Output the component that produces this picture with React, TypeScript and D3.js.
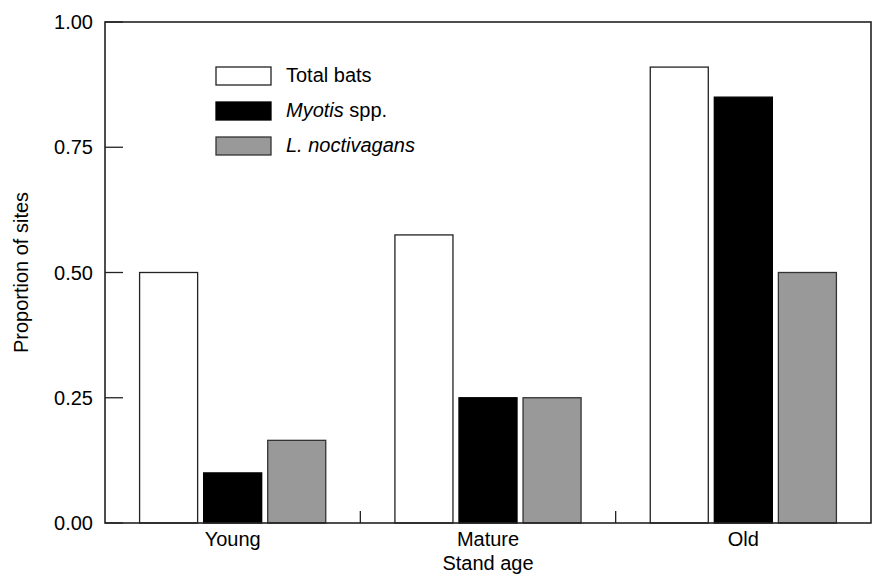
import React, { useRef, useEffect } from 'react';
import * as d3 from 'd3';

const categories = ['Young', 'Mature', 'Old'];
const seriesNames = ['Total bats', 'Myotis spp.', 'L. noctivagans'];
const totalBats = [0.5, 0.575, 0.91];
const myotis = [0.1, 0.25, 0.85];
const noctivagans = [0.165, 0.25, 0.5];
const yTicks = [0, 0.25, 0.5, 0.75, 1];

const fills = ['#ffffff', '#000000', '#999999'];
const strokes = ['#222', '#000', '#333'];

const App = () => {
  const svgRef = useRef<SVGSVGElement>(null);

  useEffect(() => {
    const svg = d3.select(svgRef.current);
    svg.selectAll('*').remove();

    const left = 105, right = 871, top = 22, bottom = 523;
    const font = 'Liberation Sans, Arial, sans-serif';
    const fs = 20;

    const x = d3.scaleBand().domain(categories).range([left, right]).padding(0);
    const xs = d3.scaleBand().domain(seriesNames).range([0, x.bandwidth()])
      .paddingInner(0.094).paddingOuter(0.54);
    const y = d3.scaleLinear().domain([0, 1]).range([bottom, top]);

    const values = [totalBats, myotis, noctivagans];

    // bars
    const g = svg.append('g');
    categories.forEach((cat, ci) => {
      seriesNames.forEach((s, si) => {
        const v = values[si][ci];
        g.append('rect')
          .attr('x', (x(cat) as number) + (xs(s) as number))
          .attr('y', y(v))
          .attr('width', xs.bandwidth())
          .attr('height', y(0) - y(v))
          .attr('fill', fills[si])
          .attr('stroke', strokes[si])
          .attr('stroke-width', 1.3);
      });
    });

    // frame
    svg.append('rect')
      .attr('x', left).attr('y', top)
      .attr('width', right - left).attr('height', bottom - top)
      .attr('fill', 'none').attr('stroke', '#222').attr('stroke-width', 1.6);

    // y ticks
    yTicks.forEach(t => {
      svg.append('line')
        .attr('x1', left).attr('x2', left + 18)
        .attr('y1', y(t)).attr('y2', y(t))
        .attr('stroke', '#222').attr('stroke-width', 1.3);
      svg.append('text')
        .attr('x', left - 12).attr('y', y(t) + 7)
        .attr('text-anchor', 'end')
        .attr('font-family', font).attr('font-size', fs)
        .text(d3.format('.2f')(t));
    });

    // x ticks between groups
    categories.slice(1).forEach(cat => {
      const xx = x(cat) as number;
      svg.append('line')
        .attr('x1', xx).attr('x2', xx)
        .attr('y1', bottom).attr('y2', bottom - 12)
        .attr('stroke', '#222').attr('stroke-width', 1.3);
    });

    categories.forEach(cat => {
      svg.append('text')
        .attr('x', (x(cat) as number) + x.bandwidth() / 2)
        .attr('y', 546)
        .attr('text-anchor', 'middle')
        .attr('font-family', font).attr('font-size', fs)
        .text(cat);
    });

    svg.append('text')
      .attr('x', (left + right) / 2).attr('y', 570)
      .attr('text-anchor', 'middle')
      .attr('font-family', font).attr('font-size', fs)
      .text('Stand age');

    svg.append('text')
      .attr('transform', `translate(28, ${(top + bottom) / 2}) rotate(-90)`)
      .attr('text-anchor', 'middle')
      .attr('font-family', font).attr('font-size', fs)
      .text('Proportion of sites');

    // legend
    const legend = svg.append('g').attr('transform', 'translate(216, 67)');
    seriesNames.forEach((s, i) => {
      const row = legend.append('g').attr('transform', `translate(0, ${i * 35})`);
      row.append('rect')
        .attr('width', 55).attr('height', 18)
        .attr('fill', fills[i]).attr('stroke', strokes[i]).attr('stroke-width', 1.3);
      const t = row.append('text')
        .attr('x', 70).attr('y', 15)
        .attr('font-family', font).attr('font-size', fs);
      if (i === 0) t.text(s);
      if (i === 1) {
        t.append('tspan').attr('font-style', 'italic').text('Myotis');
        t.append('tspan').text(' spp.');
      }
      if (i === 2) t.append('tspan').attr('font-style', 'italic').text(s);
    });
  }, []);

  return (
    <svg ref={svgRef} width={872} height={575}
      style={{ position: 'absolute', left: 0, top: 0, background: '#fff' }} />
  );
};

export default App;
